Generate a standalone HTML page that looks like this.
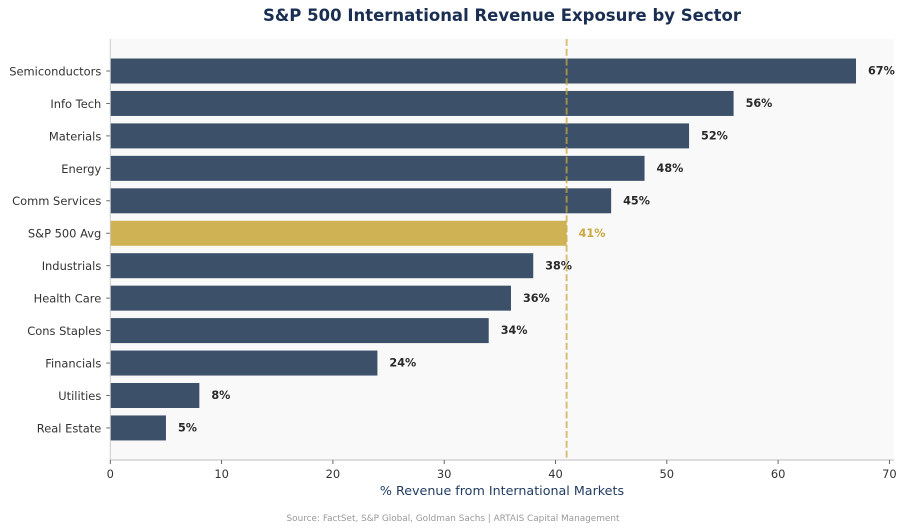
<!DOCTYPE html>
<html lang="en">
<head>
<meta charset="utf-8">
<title>S&amp;P 500 International Revenue Exposure by Sector</title>
<style>
html,body{margin:0;padding:0;background:#fff;}
svg{display:block;font-family:"DejaVu Sans","Liberation Sans",sans-serif;}
</style>
</head>
<body>
<svg id="chart" width="906" height="531" viewBox="0 0 906 531" xmlns="http://www.w3.org/2000/svg">
  <rect x="0" y="0" width="906" height="531" fill="#ffffff"/>
  <text x="502" y="21" text-anchor="middle" font-size="16.5" font-weight="700" fill="#1a2e52">S&amp;P 500 International Revenue Exposure by Sector</text>
  <rect x="110.3" y="39" width="783.7" height="421" fill="#f9f9f9"/>
  <g id="bars"></g>
  <g id="labels"></g>
  <g id="axes"></g>
  <text x="502" y="495" text-anchor="middle" font-size="12.7" fill="#1f3a5f">% Revenue from International Markets</text>
  <text x="453" y="521" text-anchor="middle" font-size="8.9" fill="#999999">Source: FactSet, S&amp;P Global, Goldman Sachs | ARTAIS Capital Management</text>
</svg>
<script>
const categories = ["Semiconductors","Info Tech","Materials","Energy","Comm Services","S&P 500 Avg","Industrials","Health Care","Cons Staples","Financials","Utilities","Real Estate"];
const seriesValues = [67,56,52,48,45,41,38,36,34,24,8,5];
const xTicks = [0,10,20,30,40,50,60,70];
const averageValue = 41;
const highlightCategory = "S&P 500 Avg";

const NS = "http://www.w3.org/2000/svg";
const xScale = v => 110.3 + v * 11.13;
const yScale = i => 71 + i * 32.45;
const PLOT_TOP = 39, PLOT_BOTTOM = 460, BAR_H = 25;
const barsG = document.getElementById("bars");
const labelsG = document.getElementById("labels");
const axesG = document.getElementById("axes");

function mk(tag, attrs, parent, txt) {
  const el = document.createElementNS(NS, tag);
  for (const k in attrs) el.setAttribute(k, attrs[k]);
  if (txt !== undefined) el.textContent = txt;
  parent.appendChild(el);
  return el;
}

categories.forEach((c, i) => {
  const v = seriesValues[i];
  const hi = c === highlightCategory;
  const slug = c.toLowerCase().replace(/[^a-z0-9]+/g, "-");
  const bar = mk("rect", {x: xScale(0), y: yScale(i) - BAR_H / 2, width: xScale(v) - xScale(0), height: BAR_H, fill: hi ? "#cfb253" : "#3c5069"}, barsG);
  
  

  const val = mk("text", {x: xScale(v) + 12, y: yScale(i) + 3.6, "font-size": 11.2, "font-weight": 700, fill: hi ? "#c9a93f" : "#2a2a2a"}, labelsG, v + "%");
  
  

  const tick = mk("line", {x1: xScale(0) - 4, x2: xScale(0), y1: yScale(i), y2: yScale(i), stroke: "#555555", "stroke-width": 0.9}, axesG);
  
  

  const lab = mk("text", {x: xScale(0) - 9, y: yScale(i) + 4.4, "text-anchor": "end", "font-size": 11.45, fill: "#333333"}, axesG, c);
  
  
});

const avgLine = mk("line", {x1: xScale(averageValue), x2: xScale(averageValue), y1: PLOT_TOP, y2: PLOT_BOTTOM, stroke: "#c9a93f", "stroke-width": 2, "stroke-dasharray": "7 2.8", opacity: 0.7}, axesG);



const leftSpine = mk("line", {x1: 110.3, x2: 110.3, y1: PLOT_TOP, y2: PLOT_BOTTOM, stroke: "#cccccc", "stroke-width": 1}, axesG);



const bottomSpine = mk("line", {x1: 110.3, x2: 894, y1: PLOT_BOTTOM, y2: PLOT_BOTTOM, stroke: "#cccccc", "stroke-width": 1.2}, axesG);



xTicks.forEach(t => {
  const tk = mk("line", {x1: xScale(t), x2: xScale(t), y1: PLOT_BOTTOM, y2: PLOT_BOTTOM + 4, stroke: "#555555", "stroke-width": 0.9}, axesG);
  
  

  const tl = mk("text", {x: xScale(t), y: PLOT_BOTTOM + 18, "text-anchor": "middle", "font-size": 11.45, fill: "#333333"}, axesG, t);
  
  
});
</script>
</body>
</html>
